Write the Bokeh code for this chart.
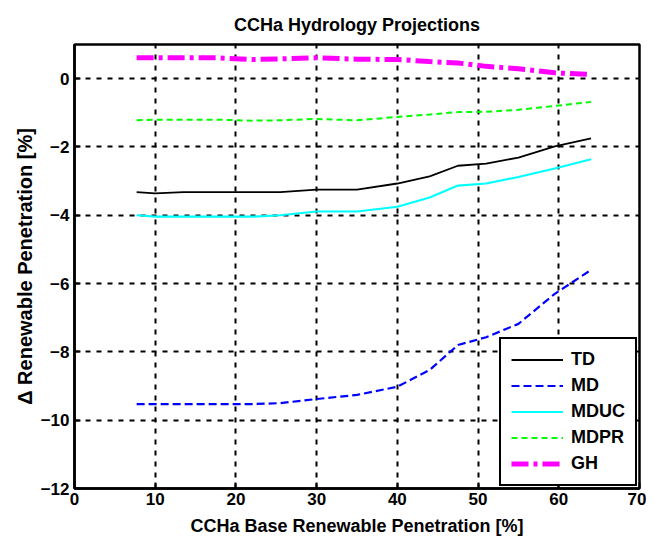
from bokeh.plotting import figure
from bokeh.models import Range1d, FixedTicker, Legend, LegendItem
from bokeh.embed import file_html
from bokeh.resources import INLINE

# Data
x_base = [7.7, 10, 13.5, 17.5, 22, 25.5, 30, 35, 40, 44, 47.5, 51, 55, 59.5, 64]
td   = [-3.32, -3.36, -3.32, -3.32, -3.32, -3.32, -3.25, -3.25, -3.07, -2.86, -2.55, -2.49, -2.31, -1.98, -1.75]
md   = [-9.53, -9.53, -9.53, -9.53, -9.53, -9.50, -9.38, -9.26, -9.02, -8.53, -7.80, -7.57, -7.18, -6.30, -5.60]
mduc = [-4.00, -4.04, -4.04, -4.04, -4.04, -4.00, -3.89, -3.89, -3.75, -3.48, -3.13, -3.07, -2.88, -2.63, -2.36]
mdpr = [-1.22, -1.20, -1.20, -1.20, -1.23, -1.22, -1.18, -1.22, -1.12, -1.05, -0.98, -0.97, -0.91, -0.80, -0.68]
gh   = [0.61, 0.61, 0.61, 0.61, 0.56, 0.58, 0.61, 0.57, 0.56, 0.50, 0.46, 0.36, 0.29, 0.17, 0.12]

series_names = ["TD", "MD", "MDUC", "MDPR", "GH"]
x_ticks = [0, 10, 20, 30, 40, 50, 60, 70]
y_ticks = [-12, -10, -8, -6, -4, -2, 0]

FONT = "Liberation Sans"

p = figure(width=646, height=538, output_backend="svg", toolbar_location=None,
           x_range=Range1d(0, 70), y_range=Range1d(-12, 1),
           min_border_left=74, min_border_right=7, min_border_top=44, min_border_bottom=49)

p.title.text = "CCHa Hydrology Projections"
p.title.align = "center"
p.title.text_font = FONT
p.title.text_font_size = "18px"
p.title.text_font_style = "bold"
p.title.text_color = "black"
p.title.standoff = 19

p.outline_line_color = "black"
p.outline_line_width = 2.5
p.outline_line_alpha = 1

for ax in (p.xaxis[0], p.yaxis[0]):
    ax.axis_line_width = 2.5
    ax.axis_line_color = "black"
    ax.major_tick_in = 6
    ax.major_tick_out = 0
    ax.major_tick_line_width = 2
    ax.minor_tick_line_color = None
    ax.major_label_text_font = FONT
    ax.major_label_text_font_size = "17px"
    ax.major_label_text_font_style = "bold"
    ax.major_label_text_color = "black"
    ax.axis_label_text_font = FONT
    ax.axis_label_text_font_style = "bold"
    ax.axis_label_text_color = "black"

p.xaxis[0].ticker = FixedTicker(ticks=x_ticks)
p.yaxis[0].ticker = FixedTicker(ticks=y_ticks)
p.xaxis[0].axis_label = "CCHa Base Renewable Penetration [%]"
p.yaxis[0].axis_label = "\u0394 Renewable Penetration [%]"
p.xaxis[0].axis_label_text_font_size = "18px"
p.yaxis[0].axis_label_text_font_size = "20px"
p.xaxis[0].major_label_standoff = 4
p.yaxis[0].major_label_standoff = 5
p.xaxis[0].axis_label_standoff = 8
p.yaxis[0].axis_label_standoff = 2

for g in (p.xgrid[0], p.ygrid[0]):
    g.grid_line_color = "black"
    g.grid_line_width = 2
    g.grid_line_dash = "5 6"
    g.grid_line_alpha = 1

r_td = p.line(x_base, td, line_color="black", line_width=1.8)
r_md = p.line(x_base, md, line_color="#0000FF", line_width=2.2, line_dash="8 4")
r_mduc = p.line(x_base, mduc, line_color="#00FFFF", line_width=2.2)
r_mdpr = p.line(x_base, mdpr, line_color="#00FF00", line_width=2, line_dash="6 4")
r_gh = p.line(x_base, gh, line_color="#FF00FF", line_width=5, line_dash="17 5 4 5")

renderers = [r_td, r_md, r_mduc, r_mdpr, r_gh]
legend = Legend(items=[LegendItem(label=n, renderers=[r]) for n, r in zip(series_names, renderers)],
                location="bottom_right")
legend.margin = 2
legend.padding = 10
legend.spacing = 5
legend.glyph_width = 52
legend.glyph_height = 21
legend.label_height = 21
legend.label_standoff = 8
legend.label_text_font = FONT
legend.label_text_font_size = "18px"
legend.label_text_font_style = "bold"
legend.label_text_color = "black"
legend.border_line_color = "black"
legend.border_line_width = 2.5
legend.border_line_alpha = 1
legend.background_fill_color = "white"
legend.background_fill_alpha = 1
p.add_layout(legend, "center")

open("out.html", "w").write(file_html(p, INLINE))
